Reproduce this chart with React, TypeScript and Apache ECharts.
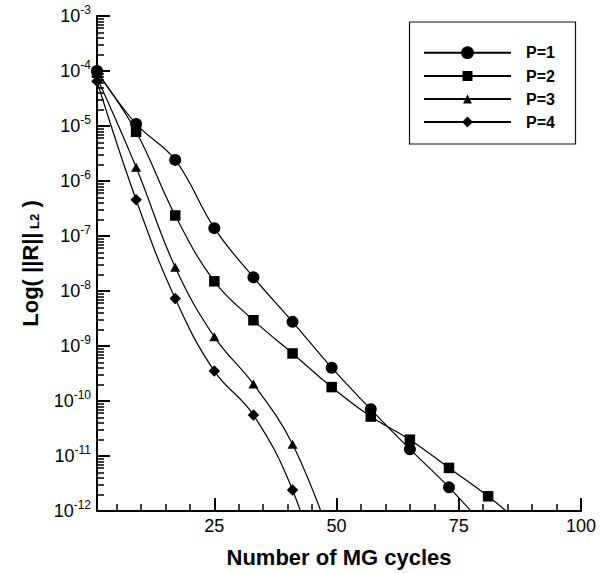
import React, { useEffect, useRef } from 'react';
import * as echarts from 'echarts';

// Multigrid cycle counts at which the residual was sampled
const cycles = [1, 9, 17, 25, 33, 41, 49, 57, 65, 73, 81, 89];

// L2 norm of the residual for each polynomial order
const residualP1 = [1.0e-4, 1.09e-5, 2.42e-6, 1.39e-7, 1.77e-8, 2.75e-9, 4.03e-10, 7.06e-11, 1.33e-11, 2.69e-12, 4.5e-13];
const residualP2 = [9.3e-5, 7.87e-6, 2.36e-7, 1.5e-8, 2.94e-9, 7.32e-10, 1.79e-10, 5.21e-11, 1.98e-11, 6.07e-12, 1.85e-12, 4.7e-13];
const residualP3 = [7.5e-5, 1.78e-6, 2.71e-8, 1.47e-9, 2.03e-10, 1.64e-11, 2.9e-13];
const residualP4 = [6.5e-5, 4.55e-7, 7.28e-9, 3.5e-10, 5.57e-11, 2.4e-12, 1.6e-14];

const seriesNames = ['P=1', 'P=2', 'P=3', 'P=4'];
const xTickLabels = [25, 50, 75, 100];
const xMinorTicks = [5, 10, 15, 20, 30, 35, 40, 45, 55, 60, 65, 70, 80, 85, 90, 95];

const FONT = '"Liberation Sans", Arial, Helvetica, sans-serif';

// minor ticks of the log axis, expressed as exponents (log10 of 2..9 within each decade)
const logMinorTickExponents: number[] = [];
for (let e = -12; e < -3; e++) {
  for (let k = 2; k <= 9; k++) logMinorTickExponents.push(e + Math.log10(k));
}

const pairs = (vals: number[]) => vals.map((v, i) => [cycles[i], v]);

const symbols = ['circle', 'rect', 'triangle', 'diamond'];
const symbolSizes: any[] = [12, 10.5, [10, 9], [11.5, 11.5]];
const legendItemHeights = [16, 12.5, 11, 13.5];
const legendRowCenters = [52.7, 76, 99, 122];

export default function App() {
  const ref = useRef<HTMLDivElement>(null);

  useEffect(() => {
    if (!ref.current) return;
    const chart = echarts.init(ref.current, undefined, { renderer: 'svg' });
    const allData = [residualP1, residualP2, residualP3, residualP4];

    const option: any = {
      animation: false,
      backgroundColor: '#fff',
      textStyle: { fontFamily: FONT, color: '#000' },
      grid: { left: 97, top: 16, right: 26, bottom: 61, containLabel: false },
      graphic: [
        {
          type: 'rect',
          shape: { x: 409.5, y: 22, width: 166, height: 122 },
          style: { fill: 'none', stroke: '#111', lineWidth: 1.2 },
        },
      ],
      legend: seriesNames.map((name, i) => ({
        data: [name],
        orient: 'vertical',
        left: 423,
        top: legendRowCenters[i] - 8,
        padding: 0,
        itemWidth: 87,
        itemHeight: legendItemHeights[i],
        selectedMode: false,
        textStyle: {
          fontFamily: FONT,
          fontSize: 16,
          fontWeight: 'bold',
          color: '#000',
          lineHeight: 16,
          padding: [0, 0, 0, 10],
        },
      })),
      xAxis: [
        {
          type: 'value',
          min: 1,
          max: 100,
          position: 'bottom',
          name: 'Number of MG cycles',
          nameLocation: 'middle',
          nameGap: 35,
          nameTextStyle: { fontFamily: FONT, fontSize: 22, fontWeight: 'bold', color: '#000' },
          axisLine: { show: true, lineStyle: { color: '#000', width: 2 } },
          axisTick: {
            show: true,
            inside: true,
            length: 13,
            customValues: xTickLabels,
            lineStyle: { color: '#000', width: 2 },
          },
          axisLabel: {
            customValues: xTickLabels,
            fontFamily: FONT,
            fontSize: 18,
            color: '#000',
            margin: 6,
          },
          splitLine: { show: false },
        },
        {
          type: 'value',
          min: 1,
          max: 100,
          position: 'bottom',
          axisLine: { show: false },
          axisTick: {
            show: true,
            inside: true,
            length: 7,
            customValues: xMinorTicks,
            lineStyle: { color: '#000', width: 1.5 },
          },
          axisLabel: { show: false },
          splitLine: { show: false },
        },
      ],
      yAxis: [
        {
          type: 'log',
          logBase: 10,
          min: 1e-12,
          max: 1e-3,
          splitNumber: 9,
          position: 'left',
          name: '{a|Log( ||R||}{s| L2}{a| )}',
          nameLocation: 'middle',
          nameGap: 56,
          nameTextStyle: {
            rich: {
              a: { fontFamily: FONT, fontSize: 22, fontWeight: 'bold', color: '#000', lineHeight: 22 },
              s: {
                fontFamily: FONT,
                fontSize: 13,
                fontWeight: 'bold',
                color: '#000',
                lineHeight: 13,
                verticalAlign: 'bottom',
                padding: [20, 0, 0, 0],
              },
            },
          },
          axisLine: { show: true, lineStyle: { color: '#000', width: 2 } },
          axisTick: { show: true, inside: true, length: 13, lineStyle: { color: '#000', width: 2 } },
          axisLabel: {
            margin: 6,
            showMinLabel: true,
            showMaxLabel: true,
            formatter: (v: number) => {
              const e = Math.round(Math.log10(v));
              return '{b|10}{s|' + e + '}';
            },
            rich: {
              b: { fontFamily: FONT, fontSize: 18, color: '#000', lineHeight: 18 },
              s: { fontFamily: FONT, fontSize: 12, color: '#000', lineHeight: 12, padding: [0, 0, 13, 0] },
            },
          },
          splitLine: { show: false },
          minorTick: { show: false },
        },
        {
          type: 'value',
          min: -12,
          max: -3,
          position: 'left',
          axisLine: { show: false },
          axisTick: {
            show: true,
            inside: true,
            length: 7,
            customValues: logMinorTickExponents,
            lineStyle: { color: '#000', width: 1.5 },
          },
          axisLabel: { show: false },
          splitLine: { show: false },
        },
      ],
      series: seriesNames.map((name, i) => ({
        name,
        type: 'line',
        xAxisIndex: 0,
        yAxisIndex: 0,
        data: pairs(allData[i]),
        smooth: 0.4,
        clip: true,
        symbol: symbols[i],
        symbolSize: symbolSizes[i],
        showAllSymbol: true,
        itemStyle: { color: '#000' },
        lineStyle: { color: '#000', width: 1.2 },
      })),
    };

    chart.setOption(option);
    return () => chart.dispose();
  }, []);

  return (
    <div
      ref={ref}
      style={{ position: 'fixed', left: 0, top: 0, width: 607, height: 573, background: '#fff' }}
    />
  );
}
